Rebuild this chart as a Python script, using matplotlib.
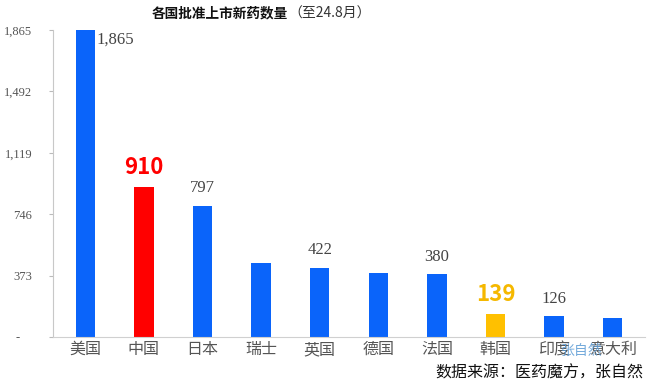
import matplotlib
matplotlib.use("Agg")
import matplotlib.pyplot as plt

categories = ["美国", "中国", "日本", "瑞士", "英国", "德国", "法国", "韩国", "印度", "意大利"]
values = [1865, 910, 797, 452, 422, 386, 380, 139, 126, 113]
shown_labels = {0: "1,865", 1: "910", 2: "797", 4: "422", 6: "380", 7: "139", 8: "126"}
yticks = [0, 373, 746, 1119, 1492, 1865]
ytick_labels = ["-    ", "373", "746", "1,119", "1,492", "1,865"]

blue = "#0A64FA"
colors = [blue] * len(categories)
colors[1] = "#FF0000"
colors[7] = "#FFC000"

plt.rcParams['font.family'] = ['Noto Sans CJK SC', 'DejaVu Sans']
fig = plt.figure(figsize=(6.5, 3.89), dpi=100)
ax = fig.add_axes([0.0815, 0.1337, 0.9108, 0.7892])

x = list(range(len(categories)))
ax.bar(x, values, width=0.33, color=colors)
ax.set_xlim(-0.55, len(categories) - 0.45)
ax.set_ylim(0, 1865)
ax.set_yticks(yticks)
ax.set_yticklabels(ytick_labels, fontfamily="Liberation Serif", fontsize=9, color="#555555")
ax.set_xticks(x)
ax.set_xticklabels(categories, fontsize=11.5, color="#555555")
ax.tick_params(axis="x", length=0, pad=3)
ax.tick_params(axis="y", length=3, color="#BBBBBB", pad=12)
for s in ["top", "right"]:
    ax.spines[s].set_visible(False)
ax.spines["left"].set_color("#C8C8C8")
ax.spines["bottom"].set_color("#D0D0D0")

for i, txt in shown_labels.items():
    v = values[i]
    if i == 0:
        ax.annotate(txt, (i + 0.165, v), xytext=(1, -7), textcoords="offset points",
                    ha="left", va="center", fontfamily="Liberation Serif", fontsize=12, color="#444444")
    elif i in (1, 7):
        ax.annotate(txt, (i, v), xytext=(0, 6), textcoords="offset points",
                    ha="center", va="bottom", fontfamily=["Noto Sans CJK SC"], fontweight="bold",
                    fontsize=16, color=("#FF0000" if i == 1 else "#F5B800"))
    else:
        ax.annotate(txt, (i, v), xytext=(0, 7), textcoords="offset points",
                    ha="center", va="bottom", fontfamily="Liberation Serif", fontsize=12, color="#444444")

fig.text(0.443, 0.965, "各国批准上市新药数量", ha="right", va="center", fontsize=9.8,
         fontweight="bold", color="#111111")
fig.text(0.443, 0.965, "（至24.8月）", ha="left", va="center", fontsize=10, color="#333333")
fig.text(0.894, 0.097, "张自然", ha="center", va="center", fontsize=10, color="#5B9BD5", alpha=0.85)
fig.text(0.99, 0.04, "数据来源：医药魔方，张自然", ha="right", va="center", fontsize=11.5, color="#111111")

fig.savefig("out.png", dpi=100, facecolor="white")
